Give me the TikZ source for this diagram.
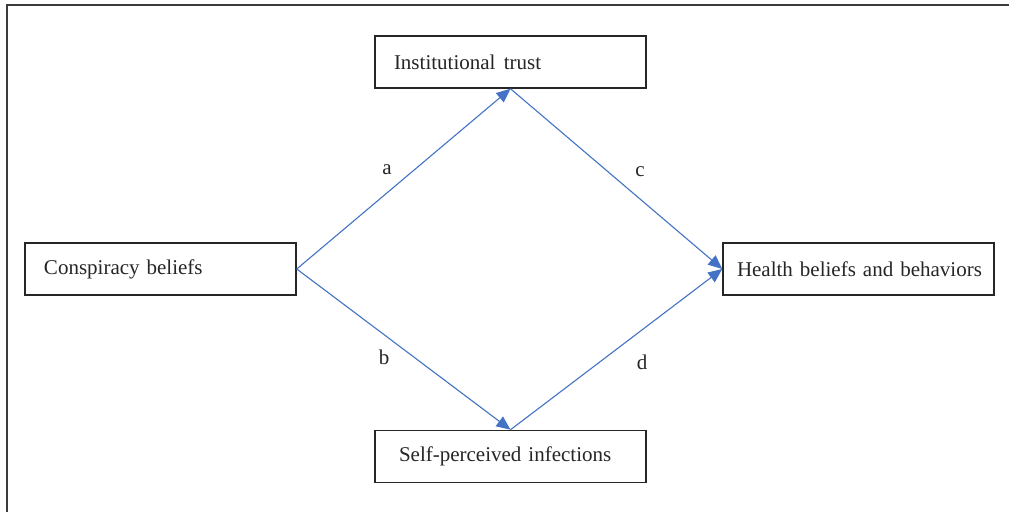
\documentclass[tikz,border=0pt]{standalone}
\usepackage{fontspec}
\setmainfont[WordSpace=0.8]{Liberation Serif}
\usetikzlibrary{arrows.meta}
\usetikzlibrary{positioning}
\definecolor{pathblue}{HTML}{4472C4}
\definecolor{boxline}{HTML}{262626}
\begin{document}
\begin{tikzpicture}[x=0.5pt,y=-0.5pt,
		var/.style={draw=boxline,line width=0.75pt,minimum width=135.5pt,minimum height=26pt,
			text width=135.5pt-2*#1,inner xsep=#1,align=left,text=boxline,
			font=\fontsize{10.5}{12.5}\selectfont},
		path/.style={draw=pathblue,line width=0.55pt,-{Triangle[length=7pt,width=6pt]}},
		lab/.style={text=boxline,font=\fontsize{10.5}{12.5}\selectfont}]
		\useasboundingbox (0,0) rectangle (1009,512);
		\clip (0,0) rectangle (1009,512);
		\fill[white] (0,0) rectangle (1009,512);
		\draw[line width=1pt,draw=boxline!90] (7,530) -- (7,5) -- (1030,5);
		% the four variables
		\node[var=9.5pt] (trust) at (510.5,62) {\mbox{Institutional\hspace{0.4em}trust}};
		\node[var=9.5pt] (consp) at (160.5,269) {\mbox{Conspiracy beliefs}};
		\node[var=7pt] (health) at (858.5,269) {\mbox{Health beliefs and behaviors}};
		\node[var=12pt] (infect) at (510.5,456.5) {\raisebox{1.5pt}{Self-perceived infections}};
		% paths
		\draw[path] (consp.east) -- (trust.south);
		\draw[path] (consp.east) -- (infect.north);
		\draw[path] (trust.south) -- (health.west);
		\draw[path] (infect.north) -- (health.west);
		\node[lab] (a) at (387,170) {a};
		\node[lab] (b) at (384,357) {b};
		\node[lab] (c) at (640,172) {c};
		\node[lab] (d) at (642,362) {d};
	\end{tikzpicture}
\end{document}
